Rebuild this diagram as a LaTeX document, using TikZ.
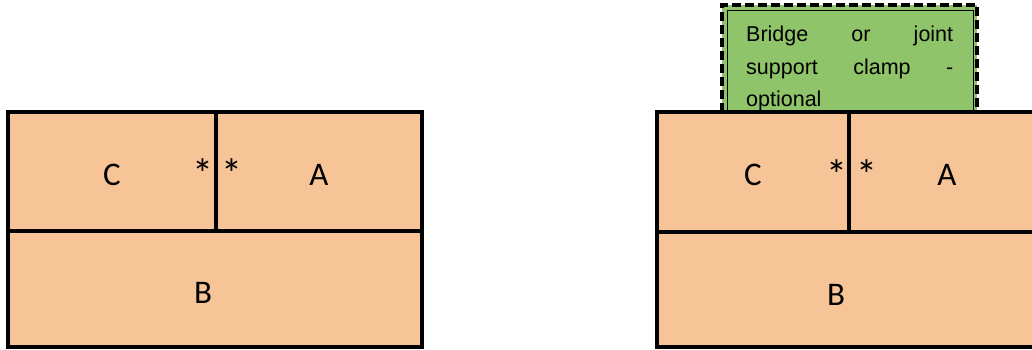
\documentclass[tikz,border=0pt]{standalone}
\usepackage{fontspec}
\usepackage{xcolor}
\newfontfamily\partfont{Carlito}
\newfontfamily\notefont{Liberation Sans}
\definecolor{woodtan}{RGB}{247,196,152}
\definecolor{clampgreen}{RGB}{143,196,106}
\tikzset{
  part/.style={draw, line width=3.4pt, fill=woodtan, anchor=north west,
    inner sep=0pt, outer sep=0pt, text height=27.5pt,
    font=\partfont\fontsize{33}{40}\selectfont},
  partlabel/.style={font=\partfont\fontsize{33}{40}\selectfont, inner sep=0pt},
  jointmark/.style={font=\partfont\fontsize{42}{48}\selectfont, inner sep=0pt, anchor=base},
  clampbox/.style={draw, line width=3.4pt, dash pattern=on 9pt off 4pt, fill=clampgreen,
    anchor=north west, inner sep=0pt, outer sep=0pt},
}

\begin{document}
\begin{tikzpicture}[x=1pt,y=-1pt]
\clip (0,0) rectangle (1032,349);
% left: plain joint
\node[part, minimum width=208, minimum height=119] (C1) at (8,112) {C};
\node[part, minimum width=206, minimum height=119] (A1) at (C1.north east) {A};
\node[part, minimum width=414, minimum height=116] (B1) at (C1.south west) {};
\node[partlabel] (LB1) at ([shift={(-12,3.5)}]B1.center) {B};
\node[jointmark] (s1) at ([shift={(-13,16.5)}]C1.east) {*};
\node[jointmark] (s2) at ([shift={(16,16.5)}]A1.west) {*};

% right: joint with clamp on top
\node[clampbox, minimum width=255, minimum height=107] (clamp) at (722,5) {};
\draw[line width=0.8pt] ([shift={(5,5)}]clamp.north west) rectangle ([xshift=-4]clamp.south east);
\node[anchor=north west, inner sep=0pt, text width=207pt, align=left,
  font=\notefont\fontsize{21.5}{32.5}\selectfont] (note) at ([shift={(24,21)}]clamp.north west)
  {Bridge\hfill or\hfill joint\\ support\hfill clamp\hfill -\\ optional};
\node[part, minimum width=192, minimum height=120] (C2) at (657,112) {C};
\node[part, minimum width=196, minimum height=120] (A2) at (C2.north east) {A};
\node[part, minimum width=388, minimum height=115] (B2) at (C2.south west) {};
\node[partlabel] (LB2) at ([shift={(-15,5)}]B2.center) {B};
\node[jointmark] (s3) at ([shift={(-12,17.5)}]C2.east) {*};
\node[jointmark] (s4) at ([shift={(17.5,17.5)}]A2.west) {*};
\end{tikzpicture}
\end{document}
